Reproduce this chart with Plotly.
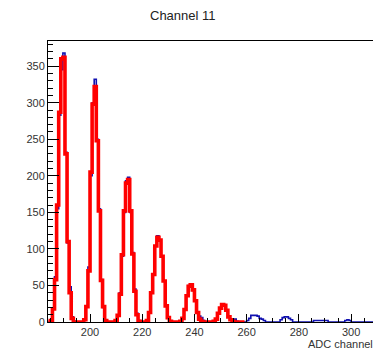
import numpy as np
import plotly.graph_objects as go

# Histogram binning (ADC channels)
bin_lo = 184.0
bin_width = 0.8

# Measured counts per bin
data_counts = [
    0, 2, 18, 62, 155, 283, 345, 368, 232, 108,
    48, 7, 1, 0, 0, 0, 0, 4, 22, 75,
    200, 300, 332, 250, 155, 58, 20, 3, 0, 0,
    0, 0, 2, 10, 40, 90, 150, 193, 198, 150,
    95, 45, 12, 2, 0, 0, 0, 2, 13, 41,
    66, 104, 118, 111, 90, 56, 22, 7, 1, 0,
    0, 0, 0, 1, 5, 18, 37, 50, 51, 43,
    30, 14, 8, 6, 2, 0, 0, 0, 0, 1,
    4, 12, 19, 24, 23, 16, 7, 3, 1, 4,
    1, 0, 0, 0, 0, 2, 5, 9, 9, 9,
    8, 5, 4, 2, 0, 0, 0, 0, 0, 0,
    0, 3, 6, 7, 7, 5, 3, 0, 0, 0,
    0, 0, 0, 0, 0, 0, 0, 2, 2, 2,
    2, 2, 2, 2, 0, 0, 0, 0, 0, 0,
    0, 0, 2, 3, 2, 0, 0, 0, 0, 0,
    0, 0, 0, 0, 0, 0,
]

# Multi-peak fit evaluated per bin
fit_counts = [
    0, 2, 18, 58, 160, 287, 360, 362, 230, 110,
    40, 5, 0, 0, 0, 0, 0, 3, 21, 70,
    205, 298, 322, 248, 152, 57, 21, 2, 0, 0,
    0, 0, 2, 9, 38, 92, 152, 190, 195, 152,
    93, 42, 10, 1, 0, 0, 0, 2, 13, 40,
    65, 104, 116, 112, 90, 56, 22, 6, 1, 0,
    0, 0, 0, 1, 5, 17, 36, 49, 51, 44,
    29, 13, 4, 1, 0, 0, 0, 0, 0, 1,
    4, 12, 19, 24, 23, 16, 7, 3, 1, 0,
    0, 0, 0, 0,
]

x_ticks = [200, 220, 240, 260, 280, 300]
y_ticks = [0, 50, 100, 150, 200, 250, 300, 350]


def step_xy(counts):
    edges = bin_lo + bin_width * np.arange(len(counts) + 1)
    ys = list(counts) + [counts[-1]]
    return edges, ys


fig = go.Figure()

dx, dy = step_xy(data_counts)
fig.add_trace(go.Scatter(
    x=dx, y=dy, mode="lines", line_shape="hv",
    line=dict(color="#1010b0", width=1.6), showlegend=False,
))

fx, fy = step_xy(fit_counts)
fig.add_trace(go.Scatter(
    x=fx, y=fy, mode="lines", line_shape="hv",
    line=dict(color="#ff0000", width=3.6), showlegend=False,
))

axis_font = dict(family="Liberation Sans, Arial, sans-serif", size=11, color="#333")

fig.update_layout(
    width=373, height=351,
    margin=dict(l=48, r=0, t=41, b=29),
    paper_bgcolor="white", plot_bgcolor="white",
    font=axis_font,
    xaxis=dict(
        range=[183.9, 308.4], showgrid=False, zeroline=False,
        showline=True, linecolor="black", linewidth=1, mirror=True,
        tickmode="array", tickvals=x_ticks, ticktext=[str(v) for v in x_ticks],
        ticks="inside", ticklen=8, tickcolor="black", tickwidth=1,
        minor=dict(dtick=5, tick0=0, ticks="inside", ticklen=4,
                   tickcolor="black", tickwidth=1, showgrid=False),
        tickfont=axis_font, ticklabelstandoff=0,
    ),
    yaxis=dict(
        range=[0, 384.4], showgrid=False, zeroline=False,
        showline=True, linecolor="black", linewidth=1, mirror=False,
        tickmode="array", tickvals=y_ticks, ticktext=[str(v) for v in y_ticks],
        ticks="inside", ticklen=11, tickcolor="black", tickwidth=1,
        minor=dict(dtick=10, tick0=0, ticks="inside", ticklen=5,
                   tickcolor="black", tickwidth=1, showgrid=False),
        tickfont=axis_font,
    ),
    annotations=[
        dict(text="Channel 11", xref="paper", yref="paper",
             x=0.415, y=1.089, xanchor="center", yanchor="middle",
             showarrow=False,
             font=dict(family="Liberation Sans, Arial, sans-serif", size=13, color="#222")),
        dict(text="ADC channel", xref="paper", yref="paper",
             x=0.794, y=-0.08, xanchor="left", yanchor="middle",
             showarrow=False,
             font=dict(family="Liberation Sans, Arial, sans-serif", size=11, color="#333")),
    ],
)

fig.write_html("out.html")
